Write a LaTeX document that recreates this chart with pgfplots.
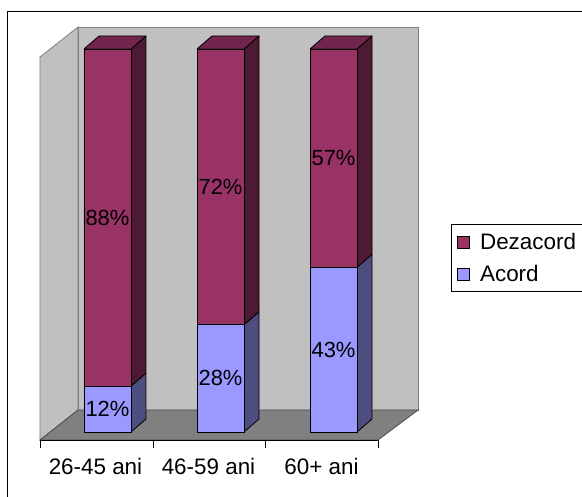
\documentclass[border=0pt]{standalone}
\usepackage{pgfplots}
\pgfplotsset{compat=1.18}
\usepackage{fontspec}
\setmainfont{Liberation Sans}

\definecolor{dezfront}{RGB}{153,51,102}
\definecolor{dezside}{RGB}{77,25,51}
\definecolor{deztop}{RGB}{115,38,77}
\definecolor{acfront}{RGB}{153,153,255}
\definecolor{acside}{RGB}{77,77,128}
\definecolor{wallc}{RGB}{192,192,192}
\definecolor{floorc}{RGB}{128,128,128}

% same frame for both axes: x = category, y = percent
\pgfplotsset{frame3d/.style={
    scale only axis, width=338bp, height=413bp,
    xmin=-0.5973, xmax=2.3938, ymin=-2.0888, ymax=105.744,
    clip=false, at={(0,0)}, anchor=south west}}
\pgfplotsset{face/.style={draw=black, line width=0.8bp, line join=round, mark=none, forget plot}}

\begin{document}
\begin{tikzpicture}
% walls, floor and the depth faces of the bars
\begin{axis}[frame3d, hide axis]
\fill[wallc, draw=floorc, line width=0.8bp] (axis cs:-0.2611,5.744) rectangle (axis cs:2.7478,105.744);
\fill[wallc, draw=floorc, line width=0.8bp] (axis cs:-0.5973,-2.0888) -- (axis cs:-0.5973,97.91)
   -- (axis cs:-0.2611,105.744) -- (axis cs:-0.2611,5.744) -- cycle;
\fill[floorc, draw=black!70, line width=0.8bp] (axis cs:-0.5973,-2.0888) -- (axis cs:2.3938,-2.0888)
   -- (axis cs:2.7478,5.744) -- (axis cs:-0.2611,5.744) -- cycle;
% Acord sides
\addplot[face, fill=acside] coordinates {(0.208,0) (0.3407,3.394) (0.3407,15.394) (0.208,12) (0.208,0)};
\addplot[face, fill=acside] coordinates {(1.208,0) (1.3407,3.394) (1.3407,31.394) (1.208,28) (1.208,0)};
\addplot[face, fill=acside] coordinates {(2.208,0) (2.3407,3.394) (2.3407,46.394) (2.208,43) (2.208,0)};
% Dezacord sides
\addplot[face, fill=dezside] coordinates {(0.208,12) (0.3407,15.394) (0.3407,103.394) (0.208,100) (0.208,12)};
\addplot[face, fill=dezside] coordinates {(1.208,28) (1.3407,31.394) (1.3407,103.394) (1.208,100) (1.208,28)};
\addplot[face, fill=dezside] coordinates {(2.208,43) (2.3407,46.394) (2.3407,103.394) (2.208,100) (2.208,43)};
% tops
\addplot[face, fill=deztop] coordinates {(-0.208,100) (0.208,100) (0.3407,103.394) (-0.0753,103.394) (-0.208,100)};
\addplot[face, fill=deztop] coordinates {(0.792,100) (1.208,100) (1.3407,103.394) (0.9247,103.394) (0.792,100)};
\addplot[face, fill=deztop] coordinates {(1.792,100) (2.208,100) (2.3407,103.394) (1.9247,103.394) (1.792,100)};
\end{axis}

% front faces, labels, axis and legend
\begin{axis}[frame3d,
    ybar stacked, bar width=0.4159,
    axis x line*=bottom, axis y line=none,
    axis on top,
    x axis line style={black, line width=0.8bp},
    xtick={0,1,2}, xticklabels={26-45 ani,46-59 ani,60+ ani},
    major tick length=0pt,
    minor xtick={-0.5973,0.4027,1.3938,2.3938},
    minor tick length=8bp, tick align=outside,
    minor tick style={black, line width=0.8bp},
    xticklabel style={font=\fontsize{22.5}{22.5}\selectfont, xshift=-12bp, yshift=-15bp},
    /pgf/number format/assume math mode=true,
    nodes near coords={\pgfmathprintnumber{\pgfplotspointmeta}\%},
    every node near coord/.append style={anchor=center, font=\fontsize{22}{22}\selectfont},
    legend style={at={(axis cs:3.0398,54.31)}, anchor=north west, draw=black, fill=white,
        line width=0.8bp, font=\fontsize{22.5}{22.5}\selectfont,
        inner xsep=6bp, inner ysep=7bp, row sep=10bp},
    legend cell align=left, reverse legend,
    legend image code/.code={\draw[#1, draw=black, line width=0.6bp] (0bp,-6bp) rectangle (12bp,6bp);
        \path (20bp,0bp);},
  ]
\addplot[fill=acfront, draw=black, line width=0.8bp] coordinates {(0,12) (1,28) (2,43)};
\addplot[fill=dezfront, draw=black, line width=0.8bp] coordinates {(0,88) (1,72) (2,57)};
\legend{Acord, Dezacord}
\end{axis}

\draw[black, line width=1bp] (-32bp,-60bp) -- (-32bp,428bp) -- (545bp,428bp);
\pgfresetboundingbox
\path[use as bounding box] (-40bp,-57bp) rectangle (542bp,440bp);
\end{tikzpicture}
\end{document}
